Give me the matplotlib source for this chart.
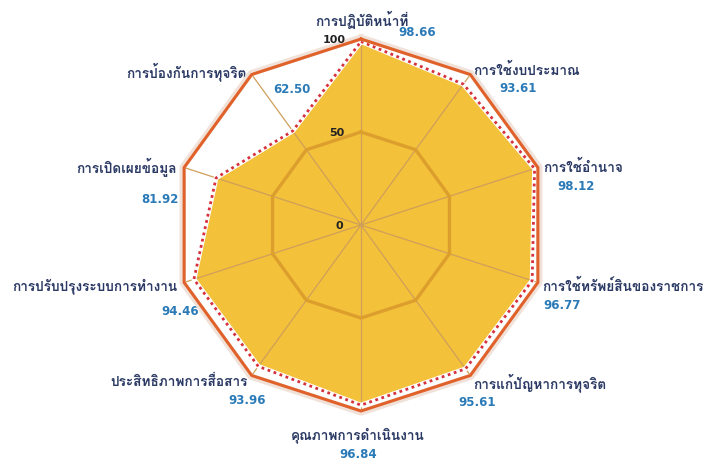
import numpy as np
import matplotlib.pyplot as plt

# ข้อมูล (เรียงตามเข็มนาฬิกา เริ่มจากด้านบน)
categories = ["การปฏิบัติหน้าที่", "การใช้งบประมาณ", "การใช้อำนาจ",
              "การใช้ทรัพย์สินของราชการ", "การแก้ปัญหาการทุจริต",
              "คุณภาพการดำเนินงาน", "ประสิทธิภาพการสื่อสาร",
              "การปรับปรุงระบบการทำงาน", "การเปิดเผยข้อมูล",
              "การป้องกันการทุจริต"]
scores = [98.66, 93.61, 98.12, 96.77, 95.61, 96.84, 93.96, 94.46, 81.92, 62.50]
full_mark = [100] * len(categories)
ring_ticks = [0, 50, 100]

thai_family = ["Loma", "DejaVu Sans"]

fig = plt.figure(figsize=(7.05, 4.62), dpi=100)
cx, cy, R = 361, 225, 186
ax = fig.add_axes([(cx - R) / 705, (462 - cy - R) / 462, 2 * R / 705, 2 * R / 462],
                  polar=True)
ax.set_theta_zero_location("N")
ax.set_theta_direction(-1)
ax.set_ylim(0, 100)
ax.set_axis_off()

n = len(categories)
theta = np.arange(n) * 2 * np.pi / n
tc = np.append(theta, theta[0])

def closed(v):
    return np.append(v, v[0])

# พื้นที่คะแนน
ax.fill(tc, closed(scores), color="#F4C13A", zorder=1)

# เส้นแกน
for t in theta:
    ax.plot([t, t], [0, 100], color="#CF9F5A", lw=0.9, zorder=2)

# วงกริด 50
ax.plot(tc, closed([ring_ticks[1]] * n), color="#DC9E2C", lw=2.4, zorder=2)

# ขอบคะแนน (จุดแดงบนแถบขาว)
ax.plot(tc, closed(scores), color="white", lw=3.5, zorder=3, clip_on=False)
ax.plot(tc, closed(scores), color="#D6303C", lw=2.0, ls=(0, (1, 1.3)), zorder=3,
        clip_on=False)

# เส้นเต็ม 100
ax.plot(tc, closed(np.array(full_mark) + 0.8), color="#F1E2D9", lw=4.5, zorder=4,
        clip_on=False)
ax.plot(tc, closed(full_mark), color="#E0622A", lw=2.2, zorder=5, clip_on=False)

# ตัวเลขสเกล
for v, dx in zip(ring_ticks, [-22, -24, -27]):
    ax.annotate(str(v), xy=(0, v), xytext=(dx, -1), textcoords="offset pixels",
                ha="center", va="center", fontsize=8, fontweight="bold",
                color="#222222", zorder=6)

# ตำแหน่งป้าย (ออฟเซ็ตพิกเซล, y ลง)
name_pos = [(1, -19, "center"), (3, -4, "left"), (5, 0, "left"), (4, 4, "left"),
            (3, 7, "left"), (-3, 24, "center"), (-4, 6, "right"),
            (-7, 4, "right"), (-7, 0, "right"), (-5, -3, "right")]
value_pos = [(56, -6), (48, 14), (38, 19), (24, 23), (7, 27), (-3, 43),
             (-5, 25), (-4, 29), (-24, 32), (40, 15)]

for i in range(n):
    dx, dy, ha = name_pos[i]
    ax.annotate(categories[i], xy=(theta[i], 100), xytext=(dx, -dy),
                textcoords="offset pixels", ha=ha, va="center", fontsize=9.8,
                fontweight="bold", color="#2B3A64", family=thai_family,
                annotation_clip=False)
    vx, vy = value_pos[i]
    ax.annotate(f"{scores[i]:.2f}", xy=(theta[i], 100), xytext=(vx, -vy),
                textcoords="offset pixels", ha="center", va="center",
                fontsize=8.5, fontweight="bold", color="#2A7AB8",
                annotation_clip=False)

plt.savefig("out.png", dpi=100)
